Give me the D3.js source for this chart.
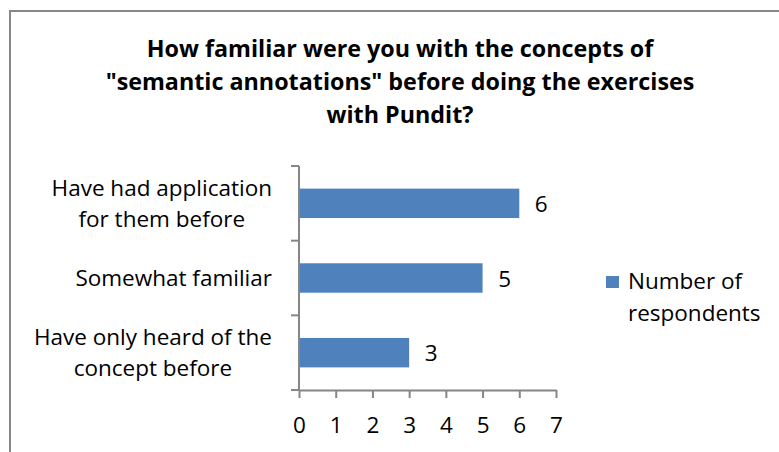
<!DOCTYPE html>
<html>
<head>
<meta charset="utf-8">
<script src="https://cdn.jsdelivr.net/npm/d3@7"></script>
<style>
  html, body { margin: 0; padding: 0; background: #fff; }
  svg { display: block; }
  text { font-family: "Open Sans", "Noto Sans", sans-serif; fill: #000; }
</style>
</head>
<body>
<svg id="chart" width="779" height="452"></svg>
<script>
// Survey answers and counts
const categories = [
  "Have had application for them before",
  "Somewhat familiar",
  "Have only heard of the concept before"
];
const categoryLines = [
  ["Have had application", "for them before"],
  ["Somewhat familiar"],
  ["Have only heard of the", "concept before"]
];
const values = [6, 5, 3];
const xTicks = [0, 1, 2, 3, 4, 5, 6, 7];
const seriesName = ["Number of", "respondents"];
const titleLines = [
  "How familiar were you with the concepts of",
  "\"semantic annotations\" before doing the exercises",
  "with Pundit?"
];

const W = 779, H = 452;
const plot = { left: 299, right: 556, top: 166, bottom: 390 };
const barColor = "#4F81BD";
const axisColor = "#868686";
const labelSize = 22.5;

const svg = d3.select("#chart");

// chart-area frame (left and top edges)
svg.append("path")
  .attr("d", `M10,${H} V11 H${W}`)
  .attr("fill", "none")
  .attr("stroke", "#878787")
  .attr("stroke-width", 2);

// title
const title = svg.append("text")
  .attr("text-anchor", "middle")
  .attr("font-weight", "bold")
  .attr("font-size", 23.3);
titleLines.forEach((t, i) => {
  title.append("tspan").attr("x", 400).attr("y", 57 + i * 33).text(t);
});

// scales
const x = d3.scaleLinear().domain([0, 7]).range([plot.left, plot.right]);
const y = d3.scaleBand().domain(categories).range([plot.top, plot.bottom])
  .paddingInner(0.606).paddingOuter(0.303);
const step = y.step();

// bars
svg.append("g").selectAll("rect")
  .data(values)
  .join("rect")
  .attr("x", x(0))
  .attr("y", (d, i) => y(categories[i]))
  .attr("width", d => x(d) - x(0))
  .attr("height", y.bandwidth())
  .attr("fill", barColor);

// value labels
svg.append("g").selectAll("text")
  .data(values)
  .join("text")
  .attr("x", d => x(d) + 22)
  .attr("y", (d, i) => y(categories[i]) + y.bandwidth() / 2 + 8.5)
  .attr("text-anchor", "middle")
  .attr("font-size", labelSize)
  .text(d => d);

// x axis
const xAxis = svg.append("g")
  .attr("transform", `translate(0,${plot.bottom})`)
  .call(d3.axisBottom(x).tickValues(xTicks).tickFormat(d3.format("d"))
    .tickSize(8).tickSizeOuter(0).tickPadding(19));
xAxis.select(".domain").attr("stroke", axisColor).attr("stroke-width", 2);
xAxis.selectAll(".tick line").attr("stroke", axisColor).attr("stroke-width", 2);
xAxis.selectAll(".tick text")
  .attr("font-size", labelSize)
  .attr("font-family", "\"Open Sans\", sans-serif")
  .attr("fill", "#000");

// y axis line with ticks between categories
const yAxis = svg.append("g");
yAxis.append("line")
  .attr("x1", plot.left).attr("x2", plot.left)
  .attr("y1", plot.top).attr("y2", plot.bottom + 1)
  .attr("stroke", axisColor).attr("stroke-width", 2);
yAxis.selectAll("line.tick")
  .data(d3.range(categories.length + 1))
  .join("line")
  .attr("class", "tick")
  .attr("x1", plot.left - 8).attr("x2", plot.left)
  .attr("y1", i => plot.top + i * step)
  .attr("y2", i => plot.top + i * step)
  .attr("stroke", axisColor).attr("stroke-width", 2);

// category labels: block right-aligned, lines centered on each other
categoryLines.forEach((lines, i) => {
  const cy = y(categories[i]) + y.bandwidth() / 2;
  const lh = 30.5;
  const g = svg.append("g");
  const texts = g.selectAll("text")
    .data(lines)
    .join("text")
    .attr("text-anchor", "middle")
    .attr("font-size", labelSize)
    .attr("x", 0)
    .attr("y", (d, j) => cy + 8 - (lines.length - 1) * lh / 2 + j * lh)
    .text(d => d);
  const maxW = d3.max(texts.nodes(), n => n.getComputedTextLength());
  texts.attr("x", 272 - maxW / 2);
});

// legend
const legend = svg.append("g");
legend.append("rect")
  .attr("x", 606).attr("y", 276)
  .attr("width", 13).attr("height", 12)
  .attr("fill", barColor);
const lt = legend.append("text").attr("font-size", labelSize);
seriesName.forEach((t, i) => {
  lt.append("tspan").attr("x", 628).attr("y", 289 + i * 32).text(t);
});
</script>
</body>
</html>
